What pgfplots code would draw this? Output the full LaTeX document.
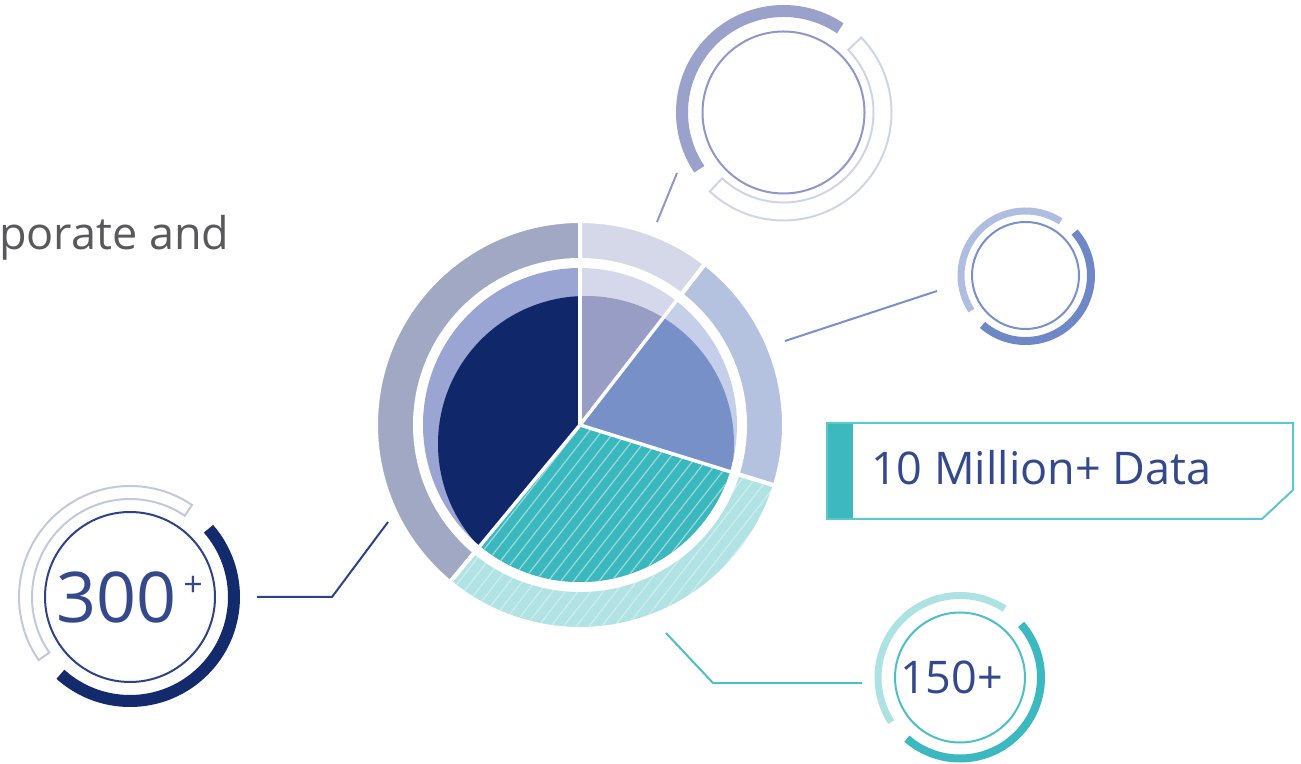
\documentclass[border=0pt]{standalone}
\usepackage{pgfplots}
\pgfplotsset{compat=1.18}
\usepackage{pgfplotstable}
\usetikzlibrary{patterns.meta}
\usepackage{fontspec}
\setmainfont{Open Sans}

% slice shares (percent), clockwise from 12 o'clock
\pgfplotstableread{
label share
A 10.5
B 19.3
C 31.2
D 39.0
}\pietab

\def\aA{90}
\pgfplotstablegetelem{0}{share}\of\pietab \pgfmathsetmacro\aB{\aA-3.6*\pgfplotsretval}
\pgfplotstablegetelem{1}{share}\of\pietab \pgfmathsetmacro\aC{\aB-3.6*\pgfplotsretval}
\pgfplotstablegetelem{2}{share}\of\pietab \pgfmathsetmacro\aD{\aC-3.6*\pgfplotsretval}
\pgfplotstablegetelem{3}{share}\of\pietab \pgfmathsetmacro\aE{\aD-3.6*\pgfplotsretval}

\definecolor{navy}{HTML}{10286A}
\definecolor{navyband}{HTML}{9AA5D3}
\definecolor{grayc}{HTML}{979DC4}
\definecolor{grayband}{HTML}{D5D8EA}
\definecolor{bluec}{HTML}{7790C7}
\definecolor{blueband}{HTML}{C6CFEA}
\definecolor{tealc}{HTML}{3AB8BE}
\definecolor{tealhatch}{HTML}{9ADADC}
\definecolor{ringgray}{HTML}{A0A8C4}
\definecolor{ringlav}{HTML}{D5D8E9}
\definecolor{ringblue}{HTML}{B4C2E0}
\definecolor{ringteal}{HTML}{B2E3E4}
\definecolor{ringtealh}{HTML}{D2EFEF}
\definecolor{txtgray}{HTML}{59595B}
\definecolor{txtblue}{HTML}{34488C}
% satellites
\definecolor{topthin}{HTML}{8F97C8}
\definecolor{topthick}{HTML}{9AA2CB}
\definecolor{tophollow}{HTML}{D0D4E8}
\definecolor{rthin}{HTML}{7A90CA}
\definecolor{rlight}{HTML}{AFBEE0}
\definecolor{rdark}{HTML}{6E87C6}
\definecolor{nthin}{HTML}{2E4387}
\definecolor{nthick}{HTML}{132A6C}
\definecolor{nhollow}{HTML}{C3C9DC}
\definecolor{tthin}{HTML}{4CC0C6}
\definecolor{tlight}{HTML}{ADE2E3}
\definecolor{tdark}{HTML}{3CB9BF}
\definecolor{boxline}{HTML}{5EC7CB}

% ring segment: style, cx, cy, inner r, outer r, start angle, end angle
\newcommand{\band}[7]{\path[#1] ([shift={(#6:#5pt)}]axis cs:#2,#3) arc[start angle=#6, end angle=#7, radius=#5pt] -- ([shift={(#7:#4pt)}]axis cs:#2,#3) arc[start angle=#7, end angle=#6, radius=#4pt] -- cycle;}
% arc stroke: style, cx, cy, r, start, end
\newcommand{\arcc}[6]{\draw[#1] ([shift={(#5:#4pt)}]axis cs:#2,#3) arc[start angle=#5, end angle=#6, radius=#4pt];}
% pie slice: start, end, light colour, core colour
\newcommand{\slice}[4]{%
  \begin{scope}
    \clip (axis cs:580,338) -- ([shift={(#1:157pt)}]axis cs:580,338) arc[start angle=#1, end angle=#2, radius=157pt] -- cycle;
    \fill[#3] (axis cs:580,338) circle[radius=160pt];
    \fill[#4] (axis cs:586,319) circle[radius=148pt];
  \end{scope}}

\begin{document}
\begin{tikzpicture}
\begin{axis}[hide axis, x=1pt, y=1pt, xmin=0, xmax=1301, ymin=0, ymax=763, clip=false]
\path (axis cs:0,0) coordinate (LL) (axis cs:1301,763) coordinate (UR);

% outer ring
\band{fill=ringlav}{580}{338}{165}{204}{\aA}{\aB}
\band{fill=ringblue}{580}{338}{165}{204}{\aB}{\aC}
\band{fill=ringteal}{580}{338}{165}{204}{\aC}{\aD}
\band{pattern={Lines[angle=52,distance=10pt,line width=1pt]}, pattern color=ringtealh}{580}{338}{165}{204}{\aC}{\aD}
\band{fill=ringgray}{580}{338}{165}{204}{\aD}{\aE}
\band{draw=white, line width=4pt}{580}{338}{165}{204}{\aA}{\aB}
\band{draw=white, line width=4pt}{580}{338}{165}{204}{\aB}{\aC}
\band{draw=white, line width=4pt}{580}{338}{165}{204}{\aC}{\aD}
\band{draw=white, line width=4pt}{580}{338}{165}{204}{\aD}{\aE}

% pie
\slice{\aA}{\aB}{grayband}{grayc}
\slice{\aB}{\aC}{blueband}{bluec}
\slice{\aC}{\aD}{tealc}{tealc}
\slice{\aD}{\aE}{navyband}{navy}
\begin{scope}
  \clip (axis cs:580,338) -- ([shift={(\aC:157pt)}]axis cs:580,338) arc[start angle=\aC, end angle=\aD, radius=157pt] -- cycle;
  \fill[pattern={Lines[angle=52,distance=10pt,line width=1.2pt]}, pattern color=tealhatch] (axis cs:580,338) circle[radius=160pt];
\end{scope}
\draw[white, line width=3.5pt] (axis cs:580,338) -- ([shift={(\aA:160pt)}]axis cs:580,338);
\draw[white, line width=3.5pt] (axis cs:580,338) -- ([shift={(\aB:160pt)}]axis cs:580,338);
\draw[white, line width=3.5pt] (axis cs:580,338) -- ([shift={(\aC:160pt)}]axis cs:580,338);
\draw[white, line width=3.5pt] (axis cs:580,338) -- ([shift={(\aD:160pt)}]axis cs:580,338);

% connectors
\addplot[no markers, line width=2pt, color=topthin] coordinates {(677,590) (657,541)};
\addplot[no markers, line width=2pt, color=rthin] coordinates {(785,422) (937,472)};
\addplot[no markers, line width=2pt, color=nthin] coordinates {(257,166) (332,166) (388,241)};
\addplot[no markers, line width=2pt, color=tthin] coordinates {(666,130) (713,80) (862,80)};

% top satellite
\draw[topthin, line width=2pt] (axis cs:783.5,650.5) circle[radius=81pt];
\arcc{topthick, line width=12pt}{783.5}{650.5}{101.5}{56}{214}
\band{draw=tophollow, line width=2pt}{783.5}{650.5}{90}{108}{-133}{44}

% right satellite
\draw[rthin, line width=2pt] (axis cs:1025.5,487.5) circle[radius=53.5pt];
\arcc{rlight, line width=7pt}{1025.5}{487.5}{64.5}{57}{213}
\arcc{rdark, line width=8pt}{1025.5}{487.5}{65.5}{-131}{41.5}

% 300+ satellite
\draw[nthin, line width=2pt] (axis cs:130,166) circle[radius=85pt];
\arcc{nthick, line width=12pt}{130}{166}{104}{-132}{41}
\band{draw=nhollow, line width=2pt}{130}{166}{98}{111}{56}{214.6}
\node[anchor=base west, inner sep=0pt, text=txtblue, font=\fontsize{70}{74}\selectfont] at (axis cs:56,140) {300};
\node[inner sep=0pt, text=txtblue, font=\fontsize{34}{36}\selectfont] at (axis cs:193,177) {+};

% 150+ satellite
\draw[tthin, line width=2pt] (axis cs:960,85.5) circle[radius=65pt];
\arcc{tlight, line width=7pt}{960}{85.5}{82}{57}{213}
\arcc{tdark, line width=8pt}{960}{85.5}{81}{-131}{41}
\node[anchor=base west, inner sep=0pt, text=txtblue, font=\fontsize{45}{50}\selectfont] at (axis cs:900,70) {150+};

% label box
\fill[tdark] (axis cs:827,244) rectangle (axis cs:853,340);
\draw[boxline, line width=2pt] (axis cs:827,340) -- (axis cs:1293,340) -- (axis cs:1293,273) -- (axis cs:1262,244) -- (axis cs:827,244) -- cycle;
\node[anchor=base west, inner sep=0pt, text=txtblue, font=\fontsize{45}{50}\selectfont] at (axis cs:871,278) {10 Million+ Data};

% cropped caption text
\node[anchor=base west, inner sep=0pt, text=txtgray, font=\fontsize{45}{50}\selectfont] at (axis cs:-1,513) {porate and};
\end{axis}
\pgfresetboundingbox
\path (LL) rectangle (UR);
\end{tikzpicture}
\end{document}
